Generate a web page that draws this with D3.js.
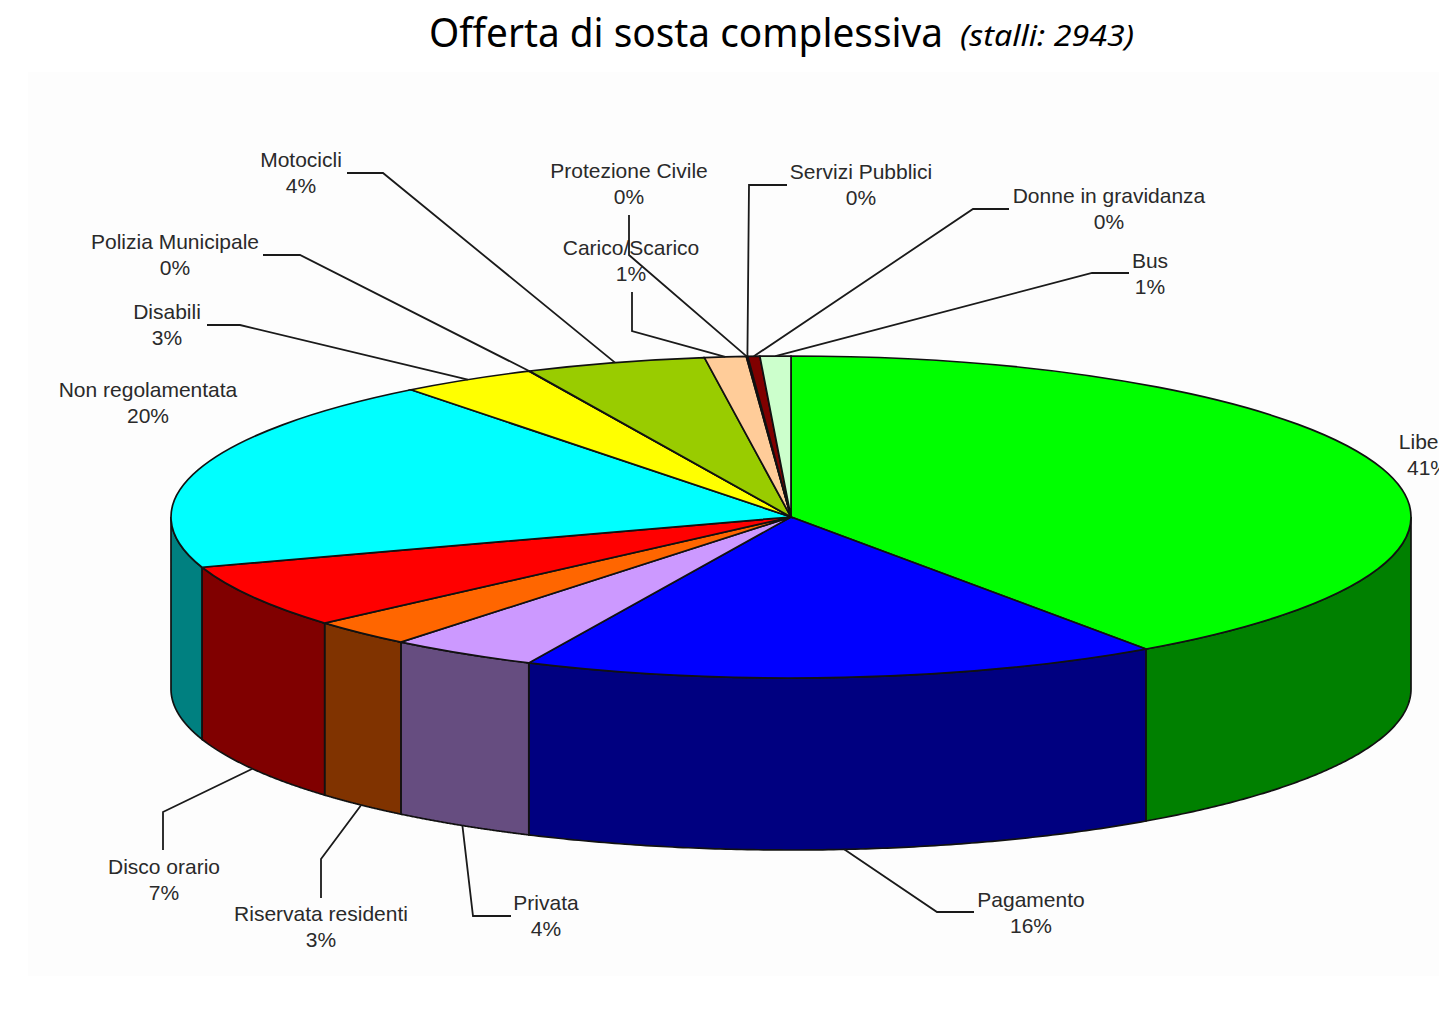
<!DOCTYPE html>
<html>
<head>
<meta charset="utf-8">
<script src="https://cdn.jsdelivr.net/npm/d3@7"></script>
<style>
  body { margin: 0; background: #fff; }
  text { fill: #2a2a2a; }
  .lbl { font-family: "Liberation Sans", Arial, sans-serif; font-size: 21px; text-anchor: middle; }
  .ttl { font-family: "Noto Sans", sans-serif; }
</style>
</head>
<body>
<svg width="1439" height="1018"></svg>
<script>
// slices clockwise from 12 o'clock, shares
var names = ["Libera", "Pagamento", "Privata", "Riservata residenti", "Disco orario", "Non regolamentata",
             "Disabili", "Polizia Municipale", "Motocicli", "Carico/Scarico", "Protezione Civile",
             "Servizi Pubblici", "Donne in gravidanza", "Bus"];
var shares = [40.3, 16.65, 3.88, 2.72, 6.4, 19.55, 3.55, 0.02, 4.7, 1.08, 0.02, 0.02, 0.31, 0.8];
var percentLabels = ["41%", "16%", "4%", "3%", "7%", "20%", "3%", "0%", "4%", "1%", "0%", "0%", "0%", "1%"];
var colours = ["#00ff00", "#0000ff", "#cc99ff", "#ff6600", "#ff0000", "#00ffff", "#ffff00", "#ffffff",
               "#99cc00", "#ffcc99", "#ffffff", "#ffffff", "#800000", "#ccffcc"];

// label placement: name centre x, name baseline y, then the leader's elbow and its end next to the label
var labelLayout = {
  "Libera":              {x: 1428, y: 449},
  "Pagamento":           {x: 1031, y: 907, elbow: [937, 912], end: [974, 912]},
  "Privata":             {x: 546,  y: 910, elbow: [473, 916], end: [511, 916]},
  "Riservata residenti": {x: 321,  y: 921, elbow: [321, 859], end: [321, 898]},
  "Disco orario":        {x: 164,  y: 874, elbow: [163, 812], end: [163, 850]},
  "Non regolamentata":   {x: 148,  y: 397},
  "Disabili":            {x: 167,  y: 319, elbow: [240, 325], end: [207, 325]},
  "Polizia Municipale":  {x: 175,  y: 249, elbow: [300, 255], end: [263, 255]},
  "Motocicli":           {x: 301,  y: 167, elbow: [383, 173], end: [347, 173]},
  "Carico/Scarico":      {x: 631,  y: 255, elbow: [632, 331], end: [632, 292]},
  "Protezione Civile":   {x: 629,  y: 178, elbow: [629, 255], end: [629, 215]},
  "Servizi Pubblici":    {x: 861,  y: 179, elbow: [749, 185], end: [787, 185]},
  "Donne in gravidanza": {x: 1109, y: 203, elbow: [973, 209], end: [1009, 209]},
  "Bus":                 {x: 1150, y: 268, elbow: [1092, 273], end: [1129, 273]}
};

var cx = 791, cy = 517, rx = 620, ry = 161, depth = 172;

var svg = d3.select("svg");

// very light panel the chart was pasted on
svg.append("rect").attr("x", 28).attr("y", 72).attr("width", 1411).attr("height", 904).attr("fill", "#fdfdfd");

var x = d3.scaleLinear().domain([-1, 1]).range([cx - rx, cx + rx]),
    y = d3.scaleLinear().domain([-1, 1]).range([cy - ry, cy + ry]);

var pie = d3.pie().sort(null).value(function(d) { return d.share; });
var slices = pie(names.map(function(n, i) {
  return {name: n, share: shares[i], pct: percentLabels[i], colour: colours[i]};
}));

function px(a) { return x(Math.sin(a)); }
function py(a) { return y(-Math.cos(a)); }

function darker(c) {
  var r = d3.rgb(c);
  return d3.rgb(r.r * 0.5, r.g * 0.5, r.b * 0.5).formatHex();
}

var wall = d3.area()
  .x(function(a) { return px(a); })
  .y0(function(a) { return py(a); })
  .y1(function(a) { return py(a) + depth; });

// front walls only
slices.forEach(function(s) {
  var a0 = Math.max(s.startAngle, Math.PI / 2),
      a1 = Math.min(s.endAngle, Math.PI * 1.5);
  if (a1 <= a0) return;
  var angles = d3.range(0, 121).map(function(i) { return a0 + (a1 - a0) * i / 120; });
  svg.append("path")
    .attr("d", wall(angles))
    .attr("fill", darker(s.data.colour))
    .attr("stroke", "#111")
    .attr("stroke-width", 1.7);
});

var arc = d3.arc().innerRadius(0).outerRadius(1000);

svg.append("g")
  .attr("transform", "translate(" + cx + "," + cy + ") scale(" + (rx / 1000) + "," + (ry / 1000) + ")")
 .selectAll("path")
  .data(slices)
  .enter().append("path")
  .attr("d", arc)
  .attr("fill", function(d) { return d.data.colour; })
  .attr("stroke", "#111")
  .attr("stroke-width", 1.7)
  .attr("vector-effect", "non-scaling-stroke");

// leaders and labels
slices.forEach(function(s) {
  var pos = labelLayout[s.data.name];
  var mid = (s.startAngle + s.endAngle) / 2;
  if (pos.elbow) {
    var front = mid > Math.PI / 2 && mid < Math.PI * 1.5;
    var anchor = [px(mid), py(mid) + (front ? depth : 0)];
    svg.append("path")
      .attr("d", d3.line()([anchor, pos.elbow, pos.end]))
      .attr("fill", "none")
      .attr("stroke", "#1a1a1a")
      .attr("stroke-width", 1.8);
  }
  svg.append("text").attr("class", "lbl").attr("x", pos.x).attr("y", pos.y).text(s.data.name);
  svg.append("text").attr("class", "lbl").attr("x", pos.x).attr("y", pos.y + 26).text(s.data.pct);
});

svg.append("text").attr("class", "ttl")
  .attr("x", 429).attr("y", 47)
  .attr("font-size", 40)
  .attr("textLength", 514)
  .attr("lengthAdjust", "spacingAndGlyphs")
  .style("fill", "#000")
  .text("Offerta di sosta complessiva");

svg.append("text").attr("class", "ttl")
  .attr("x", 960).attr("y", 46)
  .attr("font-size", 29)
  .attr("font-style", "italic")
  .attr("textLength", 174)
  .attr("lengthAdjust", "spacingAndGlyphs")
  .style("fill", "#000")
  .text("(stalli: 2943)");
</script>
</body>
</html>
